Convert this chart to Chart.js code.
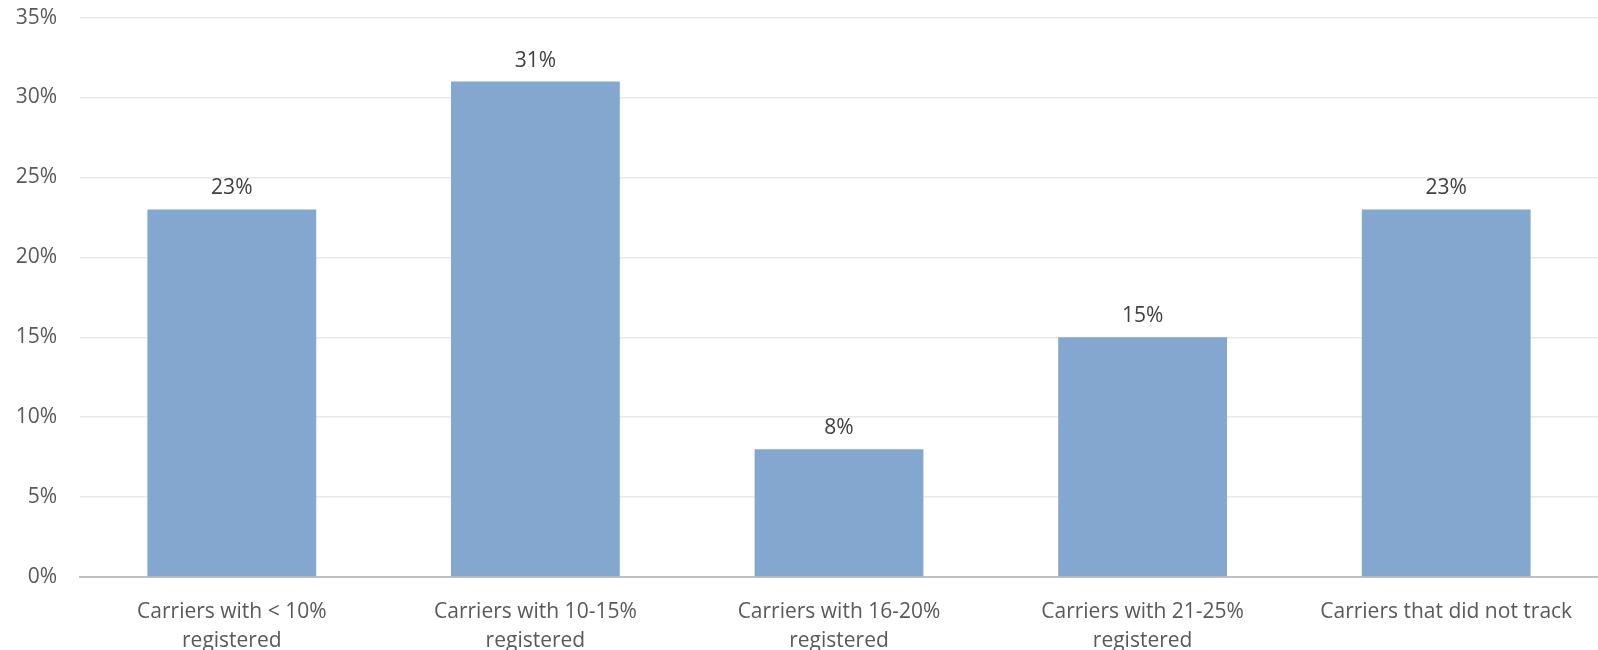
<!DOCTYPE html>
<html>
<head>
<meta charset="utf-8">
<script src="https://cdn.jsdelivr.net/npm/chart.js@4"></script>
<style>
  html, body { margin: 0; padding: 0; background: #fff; overflow: hidden; }
  #wrap { position: absolute; left: 0; top: -18px; width: 1598px; height: 668px; }
</style>
</head>
<body>
<div id="wrap"><canvas id="chart"></canvas></div>
<script>
// Chart data
const categories = [
    ["Carriers with < 10%", "registered"],
    ["Carriers with 10-15%", "registered"],
    ["Carriers with 16-20%", "registered"],
    ["Carriers with 21-25%", "registered"],
    "Carriers that did not track"
];
const shares = [23, 31, 8, 15, 23];
const yTicks = [0, 5, 10, 15, 20, 25, 30, 35];

const fontFamily = "'Open Sans', 'Noto Sans', sans-serif";

// Draws the percentage above each bar
const barLabels = {
    id: "barLabels",
    afterDatasetsDraw(chart) {
        const ctx = chart.ctx;
        const meta = chart.getDatasetMeta(0);
        ctx.save();
        ctx.font = "21px " + fontFamily;
        ctx.fillStyle = "#404040";
        ctx.textAlign = "center";
        ctx.textBaseline = "alphabetic";
        meta.data.forEach((bar, i) => {
            ctx.fillText(shares[i] + "%", bar.x, bar.y - 15);
        });
        ctx.restore();
    }
};

new Chart(document.getElementById("chart"), {
    type: "bar",
    data: {
        labels: categories,
        datasets: [{
            data: shares,
            backgroundColor: "#84a7cf",
            categoryPercentage: 0.556,
            barPercentage: 1
        }]
    },
    options: {
        responsive: true,
        maintainAspectRatio: false,
        animation: false,
        layout: { padding: 0 },
        plugins: {
            legend: { display: false },
            tooltip: { enabled: false }
        },
        scales: {
            x: {
                grid: { display: false, drawTicks: false },
                border: { color: "#bfbfbf", width: 2 },
                ticks: {
                    color: "#595959",
                    padding: 20,
                    maxRotation: 0,
                    autoSkip: false,
                    font: { family: fontFamily, size: 21, lineHeight: 1.4 }
                },
                afterFit(scale) { scale.height = 73; }
            },
            y: {
                min: 0,
                max: 35,
                afterBuildTicks(scale) {
                    scale.ticks = yTicks.map(v => ({ value: v }));
                },
                grid: { color: "#e8e8e8", lineWidth: 1.5, drawTicks: false },
                border: { display: false },
                ticks: {
                    color: "#595959",
                    padding: 23,
                    font: { family: fontFamily, size: 21 },
                    callback: v => v + "%"
                },
                afterFit(scale) { scale.width = 80; }
            }
        }
    },
    plugins: [barLabels]
});
</script>
</body>
</html>
